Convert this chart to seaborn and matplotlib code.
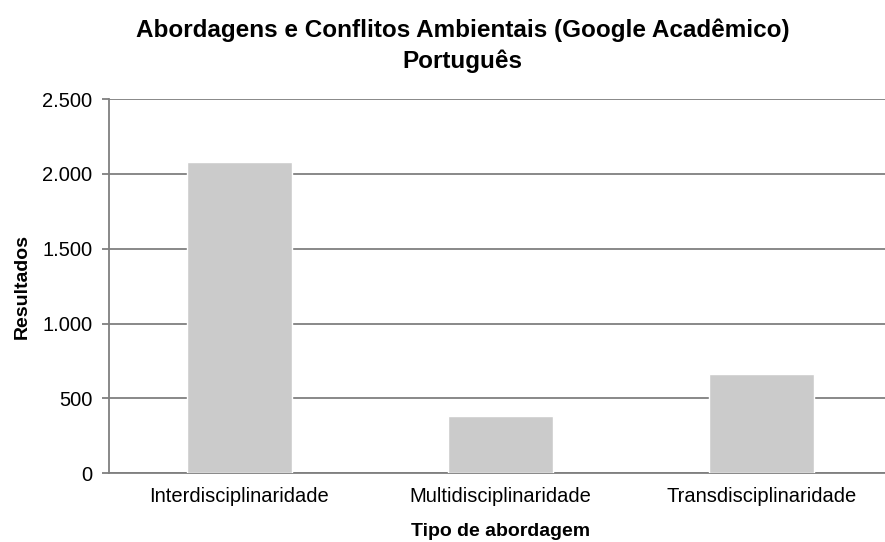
import matplotlib
matplotlib.use("Agg")
import matplotlib.pyplot as plt
import matplotlib.ticker as mticker
import seaborn as sns
import pandas as pd

# dados
categorias = ["Interdisciplinaridade", "Multidisciplinaridade", "Transdisciplinaridade"]
resultados = [2080, 380, 665]

df = pd.DataFrame({"Tipo": categorias, "Resultados": resultados})

sns.set_style("white")
plt.rcParams["font.family"] = ["Liberation Sans", "DejaVu Sans"]
plt.rcParams["text.color"] = "black"
plt.rcParams["axes.labelcolor"] = "black"

fig = plt.figure(figsize=(8.85, 5.42), dpi=100)
# a área do gráfico continua além da borda direita da imagem
ax = fig.add_axes([0.123, 0.127, 0.885, 0.690])

sns.barplot(data=df, x="Tipo", y="Resultados", color="#cbcbcb", width=0.40,
            saturation=1, ax=ax, zorder=3)

ax.set_ylim(0, 2500)
ax.set_xlim(-0.5, 2.5)
ax.yaxis.set_major_locator(mticker.MultipleLocator(500))
ax.yaxis.set_major_formatter(mticker.FuncFormatter(lambda v, p: f"{int(v):,}".replace(",", ".")))
ax.grid(axis="y", color="#7f7f7f", linewidth=1.3, zorder=0)

for s in ["top", "right"]:
    ax.spines[s].set_visible(False)
for s in ["left", "bottom"]:
    ax.spines[s].set_color("#7f7f7f")
    ax.spines[s].set_linewidth(1.3)

# ticks do eixo x entre as categorias
ax.set_xticks([-0.5, 0.5, 1.5], minor=True)
ax.tick_params(axis="x", which="major", length=0, labelsize=14.5, labelcolor="black", pad=10)
ax.tick_params(axis="x", which="minor", length=6, color="#7f7f7f", width=1.3)
ax.tick_params(axis="y", length=5, color="#7f7f7f", width=1.3, labelsize=14.5,
               labelcolor="black", pad=7, left=True)

ax.set_xlabel("Tipo de abordagem", fontsize=14, fontweight="bold", labelpad=12)
ax.set_ylabel("Resultados", fontsize=14, fontweight="bold", labelpad=8)

fig.suptitle("Abordagens e Conflitos Ambientais (Google Acadêmico)\nPortuguês",
             fontsize=17.5, fontweight="bold", y=0.966, x=0.523, linespacing=1.4)

plt.savefig("out.png", dpi=100)
